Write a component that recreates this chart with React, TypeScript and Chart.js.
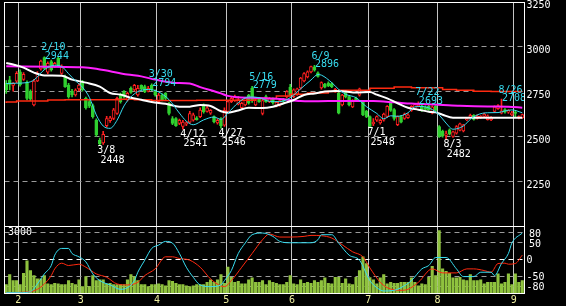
import React, { useEffect, useRef } from 'react';
import { Chart, registerables } from 'chart.js';

Chart.register(...registerables);

// ---- categories: trading days (2022, Tokyo) ----
const MONTH_DAYS: [number, number[]][] = [
  [1, [26, 27, 28, 31]],
  [2, [1, 2, 3, 4, 7, 8, 9, 10, 14, 15, 16, 17, 18, 21, 22, 24, 25, 28]],
  [3, [1, 2, 3, 4, 7, 8, 9, 10, 11, 14, 15, 16, 17, 18, 22, 23, 24, 25, 28, 29, 30, 31]],
  [4, [1, 4, 5, 6, 7, 8, 11, 12, 13, 14, 15, 18, 19, 20, 21, 22, 25, 26, 27, 28]],
  [5, [2, 6, 9, 10, 11, 12, 13, 16, 17, 18, 19, 20, 23, 24, 25, 26, 27, 30, 31]],
  [6, [1, 2, 3, 6, 7, 8, 9, 10, 13, 14, 15, 16, 17, 20, 21, 22, 23, 24, 27, 28, 29, 30]],
  [7, [1, 4, 5, 6, 7, 8, 11, 12, 13, 14, 15, 19, 20, 21, 22, 25, 26, 27, 28, 29]],
  [8, [1, 2, 3, 4, 5, 8, 9, 10, 12, 15, 16, 17, 18, 19, 22, 23, 24, 25, 26, 29, 30, 31]],
  [9, [1, 2, 5]],
];
const MONTH_TICK_LABELS = ['2', '3', '4', '5', '6', '7', '8', '9'];
const DATES: string[] = MONTH_DAYS.flatMap(([m, ds]) => ds.map((d) => `${m}/${d}`));
const N = DATES.length;

// ---- price candles ----
const OPEN = [2796,2815,2785,2808,2860,2818,2802,2752,2676,2810,2876,2940,2858,2917,2890,2936,2852,2834,2787,2753,2731,2765,2806,2712,2695,2672,2590,2478,2463,2560,2588,2600,2628,2731,2750,2703,2768,2760,2731,2785,2778,2753,2785,2750,2694,2731,2740,2684,2600,2600,2572,2556,2568,2580,2590,2603,2610,2675,2640,2630,2610,2575,2600,2563,2640,2694,2700,2680,2660,2675,2730,2770,2675,2712,2628,2722,2694,2710,2670,2675,2705,2720,2775,2722,2735,2770,2810,2832,2860,2888,2855,2770,2790,2798,2795,2752,2740,2675,2745,2722,2665,2712,2730,2694,2640,2610,2570,2590,2575,2590,2611,2685,2650,2565,2611,2600,2605,2645,2655,2670,2670,2665,2668,2630,2668,2555,2530,2505,2537,2500,2518,2535,2530,2592,2605,2618,2600,2605,2612,2594,2592,2640,2655,2630,2650,2635,2620,2635,2602,2603];
const HIGH = [2812,2835,2800,2862,2872,2856,2810,2760,2818,2862,2926,2944,2916,2926,2914,2941,2900,2842,2796,2762,2766,2796,2813,2720,2705,2680,2598,2490,2528,2612,2612,2656,2720,2742,2756,2748,2776,2790,2785,2788,2786,2780,2794,2760,2740,2738,2745,2690,2610,2605,2596,2590,2582,2640,2630,2610,2660,2682,2668,2650,2615,2600,2605,2660,2700,2720,2730,2722,2692,2718,2735,2779,2718,2718,2710,2730,2718,2715,2695,2705,2712,2755,2790,2765,2770,2830,2856,2866,2893,2896,2860,2805,2796,2804,2800,2768,2746,2735,2752,2728,2705,2720,2770,2700,2646,2615,2600,2615,2596,2630,2672,2688,2655,2615,2618,2630,2628,2672,2682,2693,2675,2670,2674,2670,2672,2560,2535,2530,2542,2530,2560,2575,2568,2605,2625,2622,2620,2616,2630,2620,2610,2670,2678,2708,2655,2650,2640,2645,2615,2625];
const LOW = [2740,2760,2752,2800,2780,2812,2703,2700,2670,2805,2870,2874,2850,2864,2884,2890,2846,2774,2714,2720,2724,2754,2752,2652,2660,2602,2500,2448,2455,2552,2578,2594,2622,2686,2714,2698,2740,2754,2725,2758,2744,2748,2755,2724,2690,2698,2705,2620,2565,2555,2565,2541,2560,2575,2585,2590,2605,2630,2635,2622,2575,2568,2546,2555,2635,2688,2695,2675,2655,2670,2680,2690,2670,2690,2620,2690,2688,2680,2665,2668,2690,2715,2725,2716,2728,2764,2804,2826,2854,2864,2830,2764,2770,2778,2772,2745,2625,2670,2715,2670,2660,2698,2725,2615,2605,2548,2560,2584,2568,2585,2605,2640,2590,2560,2575,2595,2600,2640,2650,2665,2640,2645,2645,2625,2640,2495,2496,2482,2508,2495,2512,2530,2525,2588,2600,2590,2596,2600,2608,2590,2588,2635,2650,2625,2630,2628,2615,2610,2598,2600];
const CLOSE = [2759,2790,2796,2852,2787,2846,2712,2708,2809,2852,2921,2880,2908,2871,2908,2895,2890,2778,2722,2731,2759,2787,2759,2660,2668,2610,2508,2458,2512,2600,2604,2648,2712,2694,2722,2740,2746,2785,2768,2765,2750,2768,2760,2731,2731,2703,2712,2628,2572,2560,2590,2580,2576,2628,2620,2594,2647,2638,2660,2645,2582,2590,2560,2645,2694,2712,2720,2705,2685,2712,2685,2700,2712,2694,2700,2694,2712,2688,2690,2700,2696,2750,2730,2760,2765,2825,2850,2860,2890,2870,2835,2800,2775,2782,2778,2762,2630,2730,2720,2675,2700,2703,2765,2620,2610,2555,2580,2611,2590,2625,2668,2645,2600,2610,2580,2625,2620,2668,2678,2685,2645,2650,2649,2665,2645,2500,2502,2515,2512,2525,2555,2570,2565,2600,2618,2595,2614,2612,2625,2615,2605,2665,2672,2642,2635,2645,2632,2628,2610,2622];

// ---- volume ----
const VOLUME = [390,840,570,570,390,900,1450,1020,800,650,650,800,420,390,450,420,390,390,570,450,390,600,300,750,300,800,570,600,600,420,450,390,390,390,390,600,840,750,570,390,390,300,390,390,420,390,340,570,540,450,390,390,340,300,340,390,390,390,490,600,490,600,840,450,1175,720,490,540,420,420,600,690,490,490,570,390,570,490,450,390,390,490,800,420,390,600,450,490,450,570,490,570,690,450,420,720,720,450,645,420,390,720,1020,1630,1330,700,600,420,690,840,420,490,450,450,490,490,490,690,490,340,420,390,720,1206,800,2810,1100,990,900,690,690,720,600,570,840,570,570,600,420,490,490,490,870,420,490,870,390,870,490,570];

// ---- moving averages: [day index, value] ----
const MA_SHORT: [number, number][] = [[0,2795],[3,2797],[6,2800],[8,2815],[11,2872],[14,2897],[16,2890],[18,2850],[20,2810],[22,2775],[24,2718],[26,2620],[28,2558],[30,2545],[32,2590],[34,2670],[36,2720],[38,2750],[41,2762],[44,2748],[47,2705],[50,2630],[52,2585],[54,2565],[57,2592],[60,2608],[62,2595],[64,2630],[67,2688],[70,2720],[73,2716],[76,2696],[79,2694],[82,2716],[85,2765],[88,2815],[90,2845],[91,2842],[94,2800],[96,2762],[98,2735],[101,2716],[104,2666],[107,2628],[109,2598],[111,2615],[113,2612],[116,2632],[118,2665],[120,2667],[123,2650],[125,2620],[127,2574],[129,2540],[132,2558],[134,2595],[136,2620],[139,2632],[142,2633],[144,2642],[146,2648],[149,2632]];
const MA_25: [number, number][] = [[0,2910],[2,2901],[5,2884],[8,2856],[11,2840],[16,2839],[19,2817],[23,2800],[27,2778],[30,2742],[33,2733],[36,2716],[39,2705],[42,2692],[46,2682],[50,2666],[53,2666],[56,2675],[59,2670],[62,2640],[64,2632],[67,2645],[70,2660],[74,2658],[77,2666],[80,2684],[83,2703],[86,2731],[89,2740],[92,2750],[95,2754],[98,2750],[101,2745],[105,2748],[107,2733],[110,2712],[113,2685],[116,2660],[119,2649],[122,2638],[124,2634],[126,2621],[129,2604],[134,2604],[140,2604],[149,2604]];
const MA_75: [number, number][] = [[0,2891],[22,2886],[26,2878],[30,2863],[35,2845],[39,2835],[43,2817],[48,2800],[53,2795],[56,2775],[62,2740],[64,2726],[67,2718],[73,2714],[79,2709],[85,2697],[88,2696],[98,2698],[106,2697],[112,2690],[117,2683],[125,2677],[131,2671],[139,2667],[145,2666],[149,2660]];
const MA_LONG: [number, number][] = [[0,2686],[3,2692],[12,2698],[17,2703],[33,2705],[37,2708],[42,2704],[48,2701],[55,2700],[72,2702],[78,2712],[82,2725],[87,2735],[93,2742],[96,2750],[105,2757],[112,2769],[117,2776],[126,2771],[130,2762],[135,2757],[140,2752],[149,2751]];

// ---- RCI: [day index, value] ----
const RCI_SHORT: [number, number][] = [[0,-99],[4,-99],[7,-96],[9,-73],[11,-43],[13,-18],[14,13],[16,33],[18,33],[19,18],[21,8],[23,-7],[25,-43],[27,-63],[30,-76],[33,-89],[35,-84],[37,-63],[38,-38],[40,-2],[42,33],[44,43],[46,54],[48,49],[50,18],[52,-23],[54,-53],[56,-76],[59,-81],[62,-76],[63,-63],[65,-33],[67,18],[69,49],[71,74],[74,79],[77,69],[79,54],[82,50],[88,50],[90,59],[91,74],[94,74],[96,49],[99,13],[102,-2],[105,-63],[107,-84],[109,-94],[112,-92],[114,-84],[117,-63],[120,-28],[122,-18],[124,6],[127,6],[130,-28],[132,-51],[135,-51],[137,-38],[140,-38],[141,-48],[143,-12],[145,18],[146,49],[149,79]];
const RCI_LONG: [number, number][] = [[0,-99],[7,-96],[9,-89],[11,-73],[13,-48],[14,-28],[16,-11],[18,-18],[21,-14],[23,-23],[26,-43],[29,-53],[32,-73],[35,-76],[38,-68],[40,-48],[43,-28],[46,8],[48,8],[50,3],[53,-2],[56,-23],[59,-58],[62,-79],[63,-81],[65,-63],[68,-23],[71,18],[74,59],[76,76],[79,67],[82,67],[86,69],[88,72],[91,71],[94,64],[97,44],[100,23],[103,8],[105,-25],[108,-68],[110,-84],[114,-92],[116,-89],[119,-68],[123,-28],[126,-40],[130,-40],[133,-28],[135,-28],[138,-33],[140,-38],[142,-12],[144,-11],[145,-14],[147,-12],[149,13]];

// ---- tick labels ----
const PRICE_TICKS = [2250, 2500, 2750, 3000, 3250];
const RCI_TICKS = [80, 50, 0, -50, -80];
const VOLUME_MAX_LABEL = '3000';

// ---- peak / trough annotations ----
const MARKS: { date: string; value: number; kind: 'high' | 'low' }[] = [
  { date: '2/10', value: 2944, kind: 'high' },
  { date: '3/8', value: 2448, kind: 'low' },
  { date: '3/30', value: 2794, kind: 'high' },
  { date: '4/12', value: 2541, kind: 'low' },
  { date: '4/27', value: 2546, kind: 'low' },
  { date: '5/16', value: 2779, kind: 'high' },
  { date: '6/9', value: 2896, kind: 'high' },
  { date: '7/1', value: 2548, kind: 'low' },
  { date: '7/22', value: 2693, kind: 'high' },
  { date: '8/3', value: 2482, kind: 'low' },
  { date: '8/26', value: 2708, kind: 'high' },
];

const RED = '#ff2020';
const GREEN = '#30d030';
const CYAN = '#38dcf0';
const FONT = { family: '"DejaVu Sans Mono", monospace', size: 10 };
const FONT_CSS = `${FONT.size}px ${FONT.family}`;

const monthStart = new Map<number, string>();
{
  let idx = 0;
  MONTH_DAYS.forEach(([, ds], k) => {
    if (k > 0) monthStart.set(idx, MONTH_TICK_LABELS[k - 1]);
    idx += ds.length;
  });
}

const toSeries = (pairs: [number, number][]) => {
  const arr: (number | null)[] = new Array(N).fill(null);
  pairs.forEach(([i, v]) => (arr[i] = v));
  return arr;
};

const vGridColor = (ctx: any) => (monthStart.has(ctx.index) ? '#c4c4c4' : 'rgba(0,0,0,0)');

const noPad = (s: any) => {
  s.paddingTop = 0;
  s.paddingBottom = 0;
  s.paddingLeft = 0;
  s.paddingRight = 0;
};

const framePlugin = {
  id: 'frame',
  afterDraw(chart: any) {
    const { left, top, right, bottom } = chart.chartArea;
    const c = chart.ctx;
    c.save();
    c.strokeStyle = '#ffffff';
    c.lineWidth = 1;
    c.strokeRect(Math.floor(left) + 0.5, Math.floor(top) + 0.5, Math.floor(right) - Math.floor(left), Math.floor(bottom) - Math.floor(top));
    c.restore();
  },
};

// right-side axis labels drawn from the scale's own tick positions (alphabetic baseline)
const makeAxisLabels = (scaleId: string, ticks: number[], baseDy: number, posShift: number) => ({
  id: 'axisLabels_' + scaleId,
  afterDraw(chart: any) {
    const s = chart.scales[scaleId];
    const c = chart.ctx;
    c.save();
    c.font = FONT_CSS;
    c.fillStyle = '#ffffff';
    c.textAlign = 'left';
    c.textBaseline = 'alphabetic';
    ticks.forEach((v) => {
      const y = s.getPixelForValue(v) + baseDy;
      const x = chart.chartArea.right + 2.5 + (v > 0 ? posShift : 0);
      c.fillText(String(v), x, y);
    });
    c.restore();
  },
});

const marksPlugin = {
  id: 'marks',
  afterDatasetsDraw(chart: any) {
    const xs = chart.scales.x;
    const ys = chart.scales.y;
    const { left, top, right, bottom } = chart.chartArea;
    const c = chart.ctx;
    c.save();
    c.beginPath();
    c.rect(left, top, right - left, bottom - top);
    c.clip();
    c.font = FONT_CSS;
    c.textAlign = 'left';
    c.textBaseline = 'alphabetic';
    MARKS.forEach((m) => {
      const i = DATES.indexOf(m.date);
      const x = xs.getPixelForValue(i);
      const y = ys.getPixelForValue(m.value);
      if (m.kind === 'high') {
        c.fillStyle = CYAN;
        c.fillText(m.date, x - 3, y - 6.6);
        c.fillText(String(m.value), x + 0.5, y + 2);
      } else {
        c.fillStyle = '#ffffff';
        c.fillText(m.date, x - 2.5, y + 7.5);
        c.fillText(String(m.value), x + 0.7, y + 17);
      }
    });
    c.restore();
  },
};

const volLabelPlugin = {
  id: 'volLabel',
  afterDraw(chart: any) {
    const { left, top } = chart.chartArea;
    const c = chart.ctx;
    c.save();
    c.font = FONT_CSS;
    c.fillStyle = '#ffffff';
    c.textAlign = 'left';
    c.textBaseline = 'alphabetic';
    c.fillText(VOLUME_MAX_LABEL, left + 3.5, top + 9);
    c.restore();
  },
};

export default function App() {
  const topRef = useRef<HTMLCanvasElement>(null);
  const botRef = useRef<HTMLCanvasElement>(null);

  useEffect(() => {
    const up = OPEN.map((o, i) => CLOSE[i] >= o);
    const bodies = OPEN.map((o, i) => [Math.min(o, CLOSE[i]), Math.max(o, CLOSE[i])]);
    const wicks = LOW.map((l, i) => [l, HIGH[i]]);

    const top = new Chart(topRef.current!, {
      type: 'bar',
      data: {
        labels: DATES,
        datasets: [
          { type: 'line', data: toSeries(MA_SHORT), borderColor: CYAN, borderWidth: 1, pointRadius: 0, spanGaps: true, cubicInterpolationMode: 'monotone', order: 0 } as any,
          { type: 'line', data: toSeries(MA_25), borderColor: '#ffffff', borderWidth: 2, pointRadius: 0, spanGaps: true, cubicInterpolationMode: 'monotone', order: 0 } as any,
          { type: 'line', data: toSeries(MA_75), borderColor: '#ff20ff', borderWidth: 2, pointRadius: 0, spanGaps: true, cubicInterpolationMode: 'monotone', order: 0 } as any,
          { type: 'line', data: toSeries(MA_LONG), borderColor: '#ff2a10', borderWidth: 1.5, pointRadius: 0, spanGaps: true, stepped: 'after', order: 0 } as any,
          {
            type: 'bar', data: bodies as any, grouped: false, barThickness: 3, minBarLength: 1,
            backgroundColor: up.map((u) => (u ? '#000000' : GREEN)),
            borderColor: up.map((u) => (u ? RED : GREEN)),
            borderWidth: 1, borderSkipped: false, order: 1,
          } as any,
          {
            type: 'bar', data: wicks as any, grouped: false, barThickness: 1,
            backgroundColor: up.map((u) => (u ? RED : GREEN)), order: 2,
          } as any,
        ],
      },
      options: {
        responsive: false,
        animation: false,
        layout: { padding: { left: 4.5, top: 2, right: 0, bottom: 2 } },
        plugins: { legend: { display: false }, tooltip: { enabled: false } },
        scales: {
          x: {
            type: 'category', offset: true,
            grid: { offset: true, color: vGridColor, lineWidth: 1, drawTicks: false },
            ticks: { display: false, autoSkip: false },
            border: { display: false },
            afterFit: (s: any) => { s.height = 0; noPad(s); },
          },
          y: {
            position: 'right', min: 2000, max: 3250,
            afterBuildTicks: (s: any) => { s.ticks = PRICE_TICKS.map((v) => ({ value: v })); },
            ticks: { display: false, autoSkip: false },
            grid: { color: (ctx: any) => (ctx.tick && ctx.tick.value === 3250 ? 'rgba(0,0,0,0)' : '#9a9a9a'), drawTicks: false, lineWidth: 1 },
            border: { display: false, dash: [5, 4] },
            afterFit: (s: any) => { s.width = 42; noPad(s); },
          },
        },
      } as any,
      plugins: [marksPlugin, framePlugin, makeAxisLabels('y', PRICE_TICKS, 6.3, 0)],
    });

    const bottom = new Chart(botRef.current!, {
      type: 'bar',
      data: {
        labels: DATES,
        datasets: [
          { type: 'line', data: toSeries(RCI_SHORT), yAxisID: 'yRci', borderColor: CYAN, borderWidth: 1, pointRadius: 0, spanGaps: true, cubicInterpolationMode: 'monotone', order: 0 } as any,
          { type: 'line', data: toSeries(RCI_LONG), yAxisID: 'yRci', borderColor: '#ff2a10', borderWidth: 1, pointRadius: 0, spanGaps: true, cubicInterpolationMode: 'monotone', order: 0 } as any,
          { type: 'bar', data: VOLUME, yAxisID: 'yVol', backgroundColor: '#8fc23e', barPercentage: 0.9, categoryPercentage: 1, order: 1 } as any,
        ],
      },
      options: {
        responsive: false,
        animation: false,
        layout: { padding: { left: 4.5, top: 0, right: 0, bottom: 0 } },
        plugins: { legend: { display: false }, tooltip: { enabled: false } },
        scales: {
          x: {
            type: 'category', offset: true,
            grid: { offset: true, color: vGridColor, lineWidth: 1, drawTicks: false },
            border: { display: false },
            ticks: {
              autoSkip: false, maxRotation: 0, minRotation: 0, color: '#eeeea0', font: FONT, padding: 1, labelOffset: -1.7,
              callback: (_v: any, i: number) => monthStart.get(i) ?? '',
            },
            afterFit: (s: any) => { s.height = 13; noPad(s); },
          },
          yVol: { type: 'linear', position: 'left', display: false, min: 0, max: 3000 },
          yRci: {
            type: 'linear', position: 'right', min: -100, max: 100,
            afterBuildTicks: (s: any) => { s.ticks = RCI_TICKS.map((v) => ({ value: v })); },
            ticks: { display: false, autoSkip: false },
            grid: { color: (ctx: any) => (ctx.tick && ctx.tick.value === 0 ? '#ffffff' : '#9a9a9a'), drawTicks: false, lineWidth: 1 },
            border: { display: false, dash: [5, 4] },
            afterFit: (s: any) => { s.width = 42; noPad(s); },
          },
        },
      } as any,
      plugins: [volLabelPlugin, framePlugin, makeAxisLabels('yRci', RCI_TICKS, 3.8, 2.5)],
    });

    return () => {
      top.destroy();
      bottom.destroy();
    };
  }, []);

  return (
    <div style={{ position: 'fixed', left: 0, top: 0, width: 566, height: 306, background: '#000', overflow: 'hidden' }}>
      <canvas ref={topRef} width={566} height={228} style={{ position: 'absolute', left: 0, top: 0, width: 566, height: 228 }} />
      <canvas ref={botRef} width={566} height={80} style={{ position: 'absolute', left: 0, top: 226, width: 566, height: 80 }} />
    </div>
  );
}
